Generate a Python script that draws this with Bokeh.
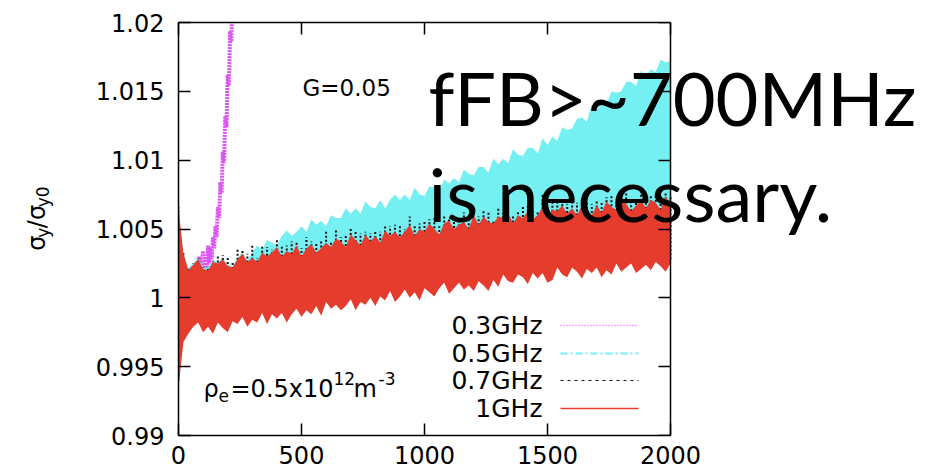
from bokeh.plotting import figure
from bokeh.models import Range1d, FixedTicker, LinearAxis, Label
from bokeh.layouts import row
from bokeh.embed import file_html
from bokeh.resources import INLINE
import math

# ---------------- data ----------------
x_ticks = [0, 500, 1000, 1500, 2000]
x_tick_labels = ["0", "500", "1000", "1500", "2000"]
y_ticks = [0.99, 0.995, 1.0, 1.005, 1.01, 1.015, 1.02]
y_tick_labels = ["0.99", "0.995", "1", "1.005", "1.01", "1.015", "1.02"]

series_labels = ["0.3GHz", "0.5GHz", "0.7GHz", "1GHz"]

# turn number, sampled every 20 turns
turns = list(range(0, 2001, 20))

# envelopes of the noisy traces, in units of 1e-4 relative to sigma_y/sigma_y0 = 1
red_hi_e4 = [65, 32, 20, 24, 28, 21, 20, 26, 25, 28, 23, 22, 28, 32, 26, 29, 26, 33, 30, 33,
             37, 30, 34, 32, 38, 30, 36, 39, 33, 36, 40, 37, 43, 41, 37, 46, 42, 38, 46, 41,
             45, 40, 49, 45, 48, 44, 48, 53, 45, 50, 48, 54, 50, 46, 54, 56, 50, 53, 55, 50,
             60, 53, 59, 55, 54, 59, 58, 62, 54, 60, 58, 63, 57, 60, 66, 59, 64, 63, 67, 61,
             65, 60, 67, 63, 60, 67, 62, 70, 66, 64, 72, 68, 63, 67, 71, 65, 71, 69, 64, 74,
             68]
red_lo_e4 = [-65, -32, -26, -21, -18, -25, -21, -26, -18, -22, -25, -17, -19, -14, -21, -16, -18, -11, -19, -12,
             -15, -11, -18, -12, -8, -14, -9, -12, -6, -13, -3, -8, -5, -9, -6, -1, -9, -3, -5, 0,
             -6, 1, -2, 5, -3, 1, 6, 0, 4, -2, 7, 4, 1, 7, 11, 3, 7, 11, 6, 9,
             5, 12, 9, 5, 13, 8, 17, 12, 11, 17, 15, 10, 18, 14, 18, 11, 13, 22, 17, 15,
             22, 19, 14, 21, 18, 22, 15, 20, 17, 25, 19, 22, 25, 18, 21, 24, 20, 26, 23, 19,
             25]
cyan_hi_e4 = [58, 33, 22, 25, 29, 22, 22, 27, 26, 29, 24, 23, 29, 33, 27, 33, 38, 35, 42, 40,
              38, 45, 49, 45, 48, 52, 48, 57, 53, 56, 52, 60, 58, 58, 65, 61, 65, 61, 70, 66,
              65, 71, 65, 71, 75, 71, 75, 71, 80, 75, 74, 81, 80, 77, 86, 83, 87, 84, 93, 90,
              89, 95, 95, 91, 101, 97, 101, 98, 108, 104, 103, 109, 109, 105, 116, 111, 117, 114, 124, 122,
              123, 130, 131, 128, 140, 136, 142, 140, 150, 149, 150, 157, 157, 154, 165, 161, 166, 164, 173, 171,
              172]
cyan_lo_e4 = [-50, -25, -20, -16, -14, -19, -15, -20, -13, -16, -19, -12, -14, -9, -15, -11, -12, -6, -13, -7,
              -9, -5, -12, -6, -2, -8, -3, -6, 0, -7, 3, -2, 1, -3, 0, 5, -3, 3, 1, 6,
              0, 7, 4, 11, 3, 7, 12, 6, 10, 4, 13, 10, 7, 13, 17, 9, 13, 17, 12, 15,
              11, 18, 15, 11, 19, 14, 23, 18, 17, 23, 21, 16, 24, 20, 24, 17, 19, 28, 23, 21,
              28, 25, 20, 27, 24, 28, 21, 26, 23, 31, 25, 28, 31, 24, 27, 30, 26, 32, 29, 25,
              31]
black_hi_e4 = [66, 33, 21, 25, 29, 22, 21, 27, 30, 31, 30, 26, 36, 34, 32, 38, 29, 38, 37, 35,
               43, 38, 38, 41, 41, 36, 44, 41, 40, 41, 49, 41, 49, 44, 45, 51, 49, 47, 48, 47,
               49, 48, 52, 52, 53, 53, 50, 59, 53, 54, 55, 57, 59, 52, 59, 58, 58, 57, 62, 59,
               63, 59, 64, 63, 56, 66, 62, 71, 60, 63, 66, 68, 64, 62, 75, 63, 70, 71, 70, 68,
               70, 69, 69, 69, 68, 71, 69, 73, 75, 69, 74, 76, 69, 71, 78, 74, 74, 74, 72, 76,
               74]
black_lo_e4 = [-60, -30, -24, -19, -15, -22, -18, -23, -15, -19, -22, -14, -16, -11, -18, -13, -15, -8, -16, -9,
               -12, -8, -15, -9, -5, -11, -6, -9, -3, -10, 0, -5, -2, -6, -3, 2, -6, 0, -2, 3,
               -3, 4, 1, 8, 0, 4, 9, 3, 7, 1, 10, 7, 4, 10, 14, 6, 10, 14, 9, 12,
               8, 15, 12, 8, 16, 11, 20, 15, 14, 20, 18, 13, 21, 17, 21, 14, 16, 25, 20, 18,
               25, 22, 17, 24, 21, 25, 18, 23, 20, 28, 22, 25, 28, 21, 24, 27, 23, 29, 26, 22,
               28]

mag_turns = [40, 55, 70, 85, 100, 110, 120, 130, 140, 150, 160, 170, 180, 190, 200, 210, 218]
mag_hi = [1.0012, 1.0022, 1.0018, 1.0030, 1.0034, 1.0030, 1.0038, 1.0036, 1.0044, 1.0052,
          1.0066, 1.0084, 1.0106, 1.0132, 1.0162, 1.0194, 1.0215]
mag_lo = [1.0005, 1.0010, 1.0008, 1.0016, 1.0020, 1.0018, 1.0025, 1.0028, 1.0036, 1.0044,
          1.0058, 1.0076, 1.0098, 1.0124, 1.0154, 1.0186, 1.0205]


def to_ratio(vals):
    return [1.0 + v * 1e-4 for v in vals]


red_hi, red_lo = to_ratio(red_hi_e4), to_ratio(red_lo_e4)
cyan_hi, cyan_lo = to_ratio(cyan_hi_e4), to_ratio(cyan_lo_e4)
black_hi, black_lo = to_ratio(black_hi_e4), to_ratio(black_lo_e4)

# ---------------- styling / layout ----------------
W, H = 931, 476
LW = 60                                  # narrow left figure holding the y label
FL, FT, FW, FH = 178, 22, 492, 413       # plot box in page pixels
X0, X1, Y0, Y1 = 0, 2000, 0.99, 1.02
X_END = X0 + (W - FL) * (X1 - X0) / FW   # frame runs to the page edge so the big text is not clipped

C_MAG = "#dc55f2"
C_CYAN = "#74eff2"
C_BLACK = "#111111"
C_RED = "#e63c2e"
TICK_FONT = "DejaVu Sans"


def dx(px):
    return X0 + (px - FL) * (X1 - X0) / FW


def dy(py):
    return Y1 - (py - FT) * (Y1 - Y0) / FH


def zig(xs, hi, lo, half):
    zx, zy = [], []
    for xi, h, l in zip(xs, hi, lo):
        zx += [xi, xi + half]
        zy += [h, l]
    return zx, zy


p = figure(width=W - LW, height=H, output_backend="svg", toolbar_location=None,
           x_range=Range1d(X0, X_END), y_range=Range1d(Y0, Y1),
           min_border_left=FL - LW, min_border_right=0,
           min_border_top=FT, min_border_bottom=H - FT - FH,
           x_axis_location=None, y_axis_location=None)
p.grid.visible = False
p.outline_line_color = None
p.background_fill_color = "white"
p.border_fill_color = "white"


def make_axis(ticks, labels, show, tick_in=12, tick_out=0):
    ax = LinearAxis(ticker=FixedTicker(ticks=ticks))
    ax.major_label_overrides = {t: (lab if show else "") for t, lab in zip(ticks, labels)}
    ax.axis_line_color = "black"
    ax.axis_line_width = 1.5
    ax.major_tick_in = tick_in
    ax.major_tick_out = tick_out
    ax.major_tick_line_width = 1.5
    ax.major_tick_line_color = "black"
    ax.minor_tick_line_color = None
    ax.major_label_text_font = TICK_FONT
    ax.major_label_text_color = "black"
    if show:
        ax.major_label_text_font_size = "24px"
    else:
        ax.major_label_text_font_size = "0px"
        ax.major_label_standoff = 0
    return ax


xb = make_axis(x_ticks, x_tick_labels, True)
xb.bounds = (X0, X1)
xb.major_label_standoff = 10
p.add_layout(xb, "below")

yl = make_axis(y_ticks, y_tick_labels, True)
yl.major_label_standoff = 14
p.add_layout(yl, "left")

xt = make_axis(x_ticks, x_tick_labels, False)
xt.bounds = (X0, X1)
p.add_layout(xt, "above")

# right edge of the box (x = 2000): ticks pointing back into the box
yr = make_axis(y_ticks, y_tick_labels, False, tick_in=0, tick_out=12)
yr.fixed_location = X1
p.add_layout(yr, "left")

# ---------------- series (gnuplot order: later on top) ----------------
mx, my = zig(mag_turns, mag_hi, mag_lo, 5)
p.line(mx, my, line_color=C_MAG, line_width=4, line_dash="2 1")

p.varea(x=turns, y1=cyan_lo, y2=cyan_hi, fill_color=C_CYAN)
p.segment(x0=turns, y0=black_lo, x1=turns, y1=black_hi, line_color=C_BLACK,
          line_width=2, line_dash="2 2")
p.varea(x=turns, y1=red_lo, y2=red_hi, fill_color=C_RED)

# ---------------- legend (gnuplot style: label left, sample right) ----------------
leg_rows = [325, 353, 380, 408]
leg_styles = [(C_MAG, "1 2", 1.5), (C_CYAN, "7 3 2 3", 2), (C_BLACK, "3 4", 1.2), (C_RED, "solid", 1.5)]
for lab, rw, (col, dash, lw) in zip(series_labels, leg_rows, leg_styles):
    p.add_layout(Label(x=dx(542), y=dy(rw), text=lab, text_font=TICK_FONT,
                       text_font_size="25px", text_align="right", text_baseline="middle",
                       text_color="black"))
    p.line([dx(560), dx(638)], [dy(rw), dy(rw)], line_color=col, line_dash=dash, line_width=lw)

# ---------------- annotations ----------------
p.add_layout(Label(x=dx(302), y=dy(87), text="G=0.05", text_font=TICK_FONT,
                   text_font_size="23px", text_baseline="alphabetic", text_color="black"))

rho_parts = [("ρ", 203, 388, "24px"), ("e", 218, 395, "17px"), ("=0.5x10", 230, 388, "24px"),
             ("12", 333, 378, "17px"), ("m", 353, 388, "24px"), ("-3", 378, 378, "17px")]
for txt, px, py, fs in rho_parts:
    p.add_layout(Label(x=dx(px), y=dy(py), text=txt, text_font=TICK_FONT,
                       text_font_size=fs, text_baseline="alphabetic", text_color="black"))

for txt, py in [("fFB>~700MHz", 97), ("is necessary.", 193)]:
    p.add_layout(Label(x=dx(428), y=dy(py), text=txt, text_font="Lato",
                       text_font_size="74px", text_baseline="alphabetic", text_color="black"))

# ---------------- y-axis label in its own narrow figure ----------------
q = figure(width=LW, height=H, output_backend="svg", toolbar_location=None,
           x_range=Range1d(0, LW), y_range=Range1d(0, H),
           min_border=0, x_axis_location=None, y_axis_location=None)
q.grid.visible = False
q.outline_line_color = None
q.background_fill_color = "white"
q.border_fill_color = "white"
ylab_parts = [("σ", 36, 263, "24px"), ("y", 42, 248, "17px"), ("/σ", 36, 237, "24px"),
              ("y0", 42, 213, "17px")]
for txt, px, py, fs in ylab_parts:
    q.add_layout(Label(x=px, y=H - py, text=txt, text_font=TICK_FONT, text_font_size=fs,
                       text_baseline="alphabetic", text_color="black",
                       angle=math.pi / 2, angle_units="rad"))

layout = row(q, p, spacing=0)
open("out.html", "w").write(file_html(layout, INLINE))
